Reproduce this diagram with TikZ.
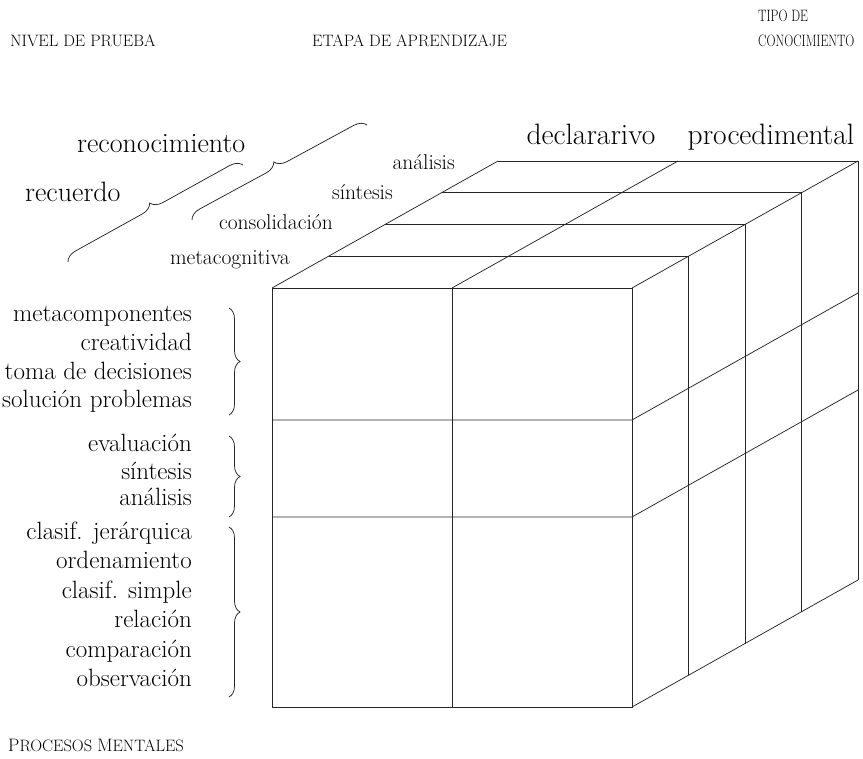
\documentclass[tikz,border=0pt]{standalone}
\usetikzlibrary{calc,decorations.pathreplacing}
\begin{document}
\begin{tikzpicture}[x=1pt,y=-1pt,
  edge/.style={line width=0.75pt, draw=black!85},
  brc/.style={line width=0.75pt, draw=black!85, decorate, decoration={brace, amplitude=#1}},
  head/.style={inner sep=0pt, anchor=base west, font=\fontsize{16.5}{19}\selectfont},
  big/.style={inner sep=0pt, anchor=base west, font=\fontsize{28}{32}\selectfont},
  mid/.style={inner sep=0pt, anchor=base east, font=\fontsize{21.5}{26}\selectfont},
  lst/.style={inner sep=0pt, anchor=base east, font=\fontsize{25}{29}\selectfont},
  ttl/.style={inner sep=0pt, anchor=base, font=\fontsize{29.5}{34}\selectfont}]
\useasboundingbox (0,0) rectangle (863,759);

% headings
\node[head] (hnivel) at (10,47) {NIVEL DE PRUEBA};
\node[head] (hetapa) at (312,47) {ETAPA DE APRENDIZAJE};
\node[head, xscale=0.76, transform shape] (htipo) at (758,22) {TIPO DE};
\node[head, xscale=0.76, transform shape] (hcono) at (758,47) {CONOCIMIENTO};
\node[head] (hproc) at (8,751) {{\fontsize{18}{20}\selectfont P}ROCESOS {\fontsize{18}{20}\selectfont M}ENTALES};

% cube corners
\coordinate (d) at (56.5,-31.75);
\coordinate (ftl) at (272,288);
\coordinate (ftm) at (452,288);
\coordinate (ftr) at (632,288);
\coordinate (fml) at (272,420);
\coordinate (fmr) at (632,420);
\coordinate (fnl) at (272,517);
\coordinate (fnr) at (632,517);
\coordinate (fbl) at (272,707);
\coordinate (fbm) at (452,707);
\coordinate (fbr) at (632,707);

% front face
\draw[edge] (ftl) -- (ftr) -- (fbr) -- (fbl) -- cycle;
\draw[edge] (ftm) -- (fbm);
\draw[edge] (fml) -- (fmr) -- ($(fmr)+4*(d)$);
\draw[edge] (fnl) -- (fnr) -- ($(fnr)+4*(d)$);
% top and right faces
\foreach \k in {1,...,4}{
  \draw[edge] ($(ftl)+\k*(d)$) -- ($(ftr)+\k*(d)$) -- ($(fbr)+\k*(d)$);
}
\draw[edge] (ftl) -- ($(ftl)+4*(d)$);
\draw[edge] (ftm) -- ($(ftm)+4*(d)$);
\draw[edge] (ftr) -- ($(ftr)+4*(d)$);
\draw[edge] (fbr) -- ($(fbr)+4*(d)$);

% top-face labels
\node[mid] (lan) at (455,170) {análisis};
\node[mid] (lsi) at (393,200) {síntesis};
\node[mid] (lco) at (333,230) {consolidación};
\node[mid] (lme) at (290,265) {metacognitiva};
\node[big] (lrec) at (25,202) {recuerdo};
\node[big] (lreco) at (77,153) {reconocimiento};
\node[ttl] (ldec) at (591,145) {declararivo};
\node[ttl] (lpro) at (771,145) {procedimental};

% slanted braces
\coordinate (b1a) at (68,262);
\coordinate (b1b) at (243,165);
\coordinate (b2a) at (192,220);
\coordinate (b2b) at (367,125);
\draw[brc=12pt] (b1a) -- (b1b);
\draw[brc=12pt] (b2a) -- (b2b);

% left lists
\foreach \t/\y in {metacomponentes/322, creatividad/351, toma de decisiones/380, solución problemas/408,
                   evaluación/452, síntesis/479, análisis/506,
                   clasif. jerárquica/539, ordenamiento/568.5, clasif. simple/598, relación/627.5, comparación/657, observación/686.5}{
  \node[lst] at (192,\y) {\t};
}
\coordinate (v1a) at (229,308);
\coordinate (v1b) at (229,415);
\coordinate (v2a) at (229,436);
\coordinate (v2b) at (229,517);
\coordinate (v3a) at (229,527);
\coordinate (v3b) at (229,697);
\draw[brc=11pt] (v1a) -- (v1b);
\draw[brc=11pt] (v2a) -- (v2b);
\draw[brc=11pt] (v3a) -- (v3b);
\end{tikzpicture}
\end{document}
